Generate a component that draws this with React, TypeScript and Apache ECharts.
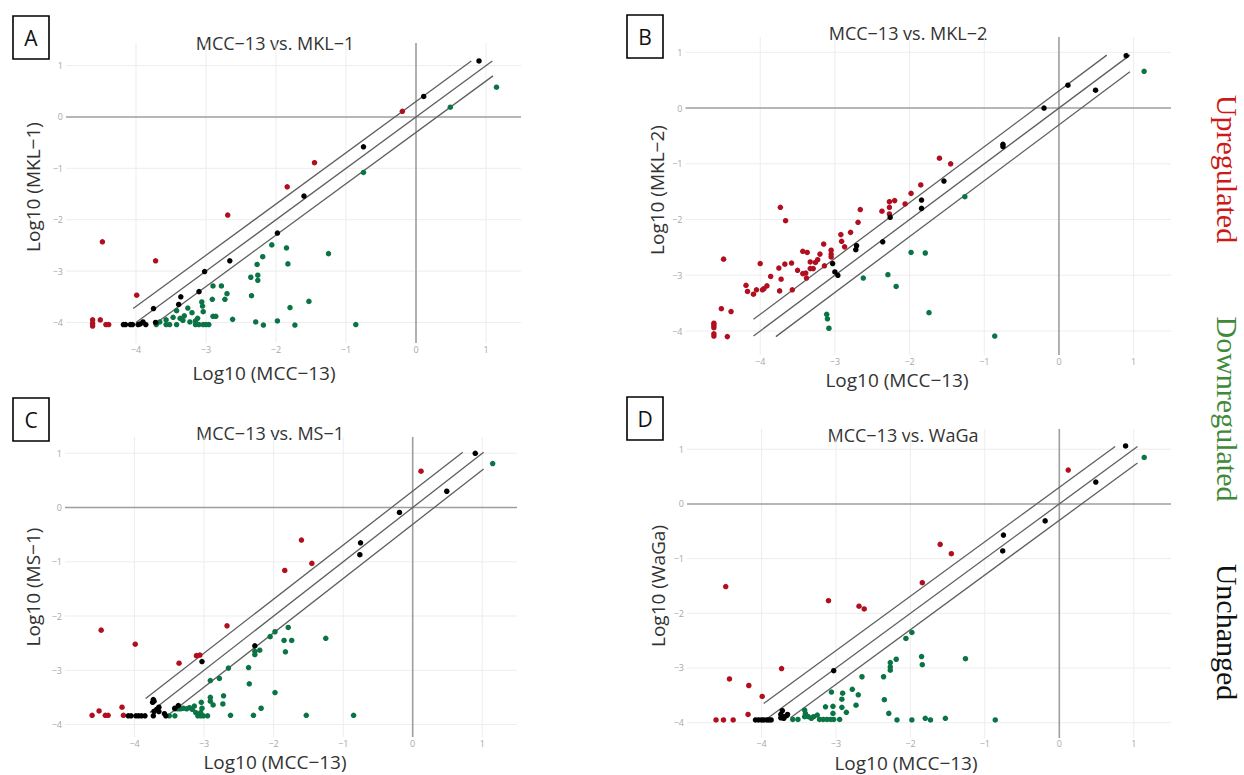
import React, { useEffect, useRef } from "react";
import * as echarts from "echarts";

const FONT = "Open Sans";
const RED = "#b10f1f";
const GREEN = "#0b7445";
const BLACK = "#000000";

const xTicks = [-4, -3, -2, -1, 0, 1];
const yTicks = [-4, -3, -2, -1, 0, 1];
const xRange = [-5, 1.5];

const letters = ["A", "B", "C", "D"];
const titles = ["MCC−13 vs. MKL−1", "MCC−13 vs. MKL−2", "MCC−13 vs. MS−1", "MCC−13 vs. WaGa"];
const yNames = ["Log10 (MKL−1)", "Log10 (MKL−2)", "Log10 (MS−1)", "Log10 (WaGa)"];
const xName = "Log10 (MCC−13)";
const legendTexts = ["Upregulated", "Downregulated", "Unchanged"];

// Panel A: MCC-13 vs MKL-1
const aUp = [[-0.195,0.11],[-1.45,-0.89],[-1.84,-1.36],[-2.69,-1.91],[-4.48,-2.43],[-3.72,-2.80],[-3.99,-3.47],[-4.62,-3.95],[-4.62,-4.02],[-4.62,-4.07],[-4.51,-3.95],[-4.43,-4.04],[-4.39,-4.04]];
const aUnch = [[0.90,1.09],[0.11,0.40],[-0.75,-0.58],[-1.60,-1.54],[-1.98,-2.26],[-2.66,-2.80],[-3.02,-3.01],[-3.10,-3.40],[-3.36,-3.50],[-3.39,-3.65],[-3.75,-3.73],[-3.72,-4.0],[-3.90,-3.99],[-3.94,-4.03],[-3.86,-4.04],[-4.18,-4.04],[-4.15,-4.04],[-4.08,-4.04],[-4.05,-4.04],[-3.97,-4.04]];
const aDown = [[1.15,0.58],[0.49,0.19],[-0.75,-1.08],[-1.25,-2.66],[-2.06,-2.49],[-1.85,-2.55],[-2.19,-2.72],[-1.83,-2.86],[-2.27,-2.87],[-2.26,-3.08],[-2.26,-3.18],[-2.36,-3.12],[-2.35,-3.48],[-1.53,-3.59],[-1.80,-3.71],[-0.86,-4.04],[-1.73,-4.05],[-1.98,-3.97],[-2.18,-4.05],[-2.29,-3.99],[-2.62,-3.94],[-2.90,-3.29],[-2.78,-3.29],[-2.70,-3.44],[-2.73,-3.55],[-2.91,-3.55],[-2.90,-3.88],[-2.86,-3.88],[-3.06,-3.60],[-3.05,-3.68],[-3.04,-3.79],[-3.12,-3.92],[-3.15,-3.97],[-3.26,-3.72],[-3.20,-3.81],[-3.31,-3.87],[-3.42,-3.77],[-3.37,-3.92],[-3.33,-3.96],[-3.47,-3.90],[-3.57,-3.95],[-3.66,-3.99],[-3.71,-4.04],[-3.57,-4.04],[-3.52,-4.04],[-3.42,-4.04],[-3.23,-3.99],[-3.15,-4.04],[-3.10,-4.04],[-3.04,-4.04],[-3.00,-4.04],[-2.96,-4.04]];
const aLines = [[[-4.04,-3.73],[0.79,1.09]],[[-4.0,-4.0],[1.09,1.09]],[[-3.72,-4.02],[1.10,0.80]]];

// Panel B: MCC-13 vs MKL-2
const bUp = [[-1.60,-0.90],[-1.45,-1.00],[-1.85,-1.38],[-1.98,-1.53],[-2.06,-1.72],[-2.27,-1.68],[-2.20,-1.66],[-2.27,-1.78],[-2.37,-1.85],[-2.27,-1.90],[-2.66,-1.82],[-2.69,-2.05],[-2.79,-2.23],[-2.92,-2.27],[-2.91,-2.39],[-2.87,-2.49],[-3.15,-2.44],[-3.05,-2.55],[-3.05,-2.62],[-3.05,-2.67],[-3.20,-2.62],[-3.23,-2.72],[-3.26,-2.77],[-3.14,-2.83],[-3.43,-2.57],[-3.37,-2.59],[-3.33,-2.76],[-3.33,-2.88],[-3.29,-2.88],[-3.43,-2.97],[-3.39,-2.96],[-3.38,-3.05],[-3.50,-2.91],[-3.58,-2.78],[-3.67,-2.80],[-3.75,-2.87],[-3.72,-3.07],[-3.73,-1.78],[-3.66,-2.02],[-4.00,-2.79],[-3.86,-3.02],[-3.74,-3.28],[-3.57,-3.26],[-3.91,-3.19],[-3.95,-3.24],[-3.97,-3.26],[-4.05,-3.26],[-4.09,-3.34],[-4.19,-3.18],[-4.17,-3.29],[-4.49,-2.71],[-4.52,-3.60],[-4.39,-3.65],[-4.44,-4.10],[-4.62,-3.86],[-4.62,-3.90],[-4.62,-3.94],[-4.62,-4.05],[-4.62,-4.09]];
const bUnch = [[0.90,0.94],[0.12,0.41],[0.49,0.32],[-0.20,0.0],[-0.75,-0.65],[-0.75,-0.69],[-1.54,-1.31],[-1.84,-1.65],[-1.84,-1.80],[-2.26,-1.96],[-2.36,-2.40],[-2.71,-2.47],[-2.72,-2.54],[-3.03,-2.79],[-3.00,-2.94],[-2.96,-3.00]];
const bDown = [[1.14,0.66],[-1.26,-1.59],[-1.98,-2.59],[-1.79,-2.60],[-2.29,-2.99],[-2.62,-3.05],[-2.18,-3.20],[-1.74,-3.67],[-3.11,-3.70],[-3.10,-3.78],[-3.08,-3.95],[-0.86,-4.09]];
const bLines = [[[-4.09,-3.79],[0.64,0.95]],[[-4.09,-4.09],[0.95,0.95]],[[-3.79,-4.10],[0.95,0.65]]];

// Panel C: MCC-13 vs MS-1
const cUp = [[0.12,0.67],[-1.60,-0.60],[-1.45,-1.03],[-1.84,-1.16],[-2.67,-2.18],[-4.48,-2.26],[-3.99,-2.52],[-3.11,-2.73],[-3.06,-2.72],[-3.36,-2.87],[-4.61,-3.83],[-4.51,-3.75],[-4.42,-3.83],[-4.38,-3.83],[-4.18,-3.68],[-4.16,-3.83]];
const cUnch = [[0.90,1.00],[0.49,0.30],[-0.19,-0.09],[-0.75,-0.65],[-0.76,-0.87],[-2.27,-2.55],[-3.03,-2.84],[-3.73,-3.54],[-3.72,-3.57],[-3.74,-3.59],[-3.65,-3.68],[-3.68,-3.72],[-3.72,-3.76],[-3.73,-3.84],[-3.65,-3.76],[-3.57,-3.80],[-3.55,-3.84],[-3.37,-3.65],[-3.42,-3.70],[-4.09,-3.84],[-4.05,-3.84],[-3.98,-3.84],[-3.94,-3.84],[-3.90,-3.84],[-3.85,-3.84]];
const cDown = [[1.15,0.81],[-1.25,-2.41],[-1.79,-2.21],[-1.98,-2.29],[-2.05,-2.38],[-1.85,-2.45],[-1.74,-2.45],[-1.83,-2.66],[-2.20,-2.63],[-2.27,-2.65],[-2.27,-2.71],[-2.36,-2.95],[-2.65,-2.96],[-2.35,-3.25],[-2.78,-3.15],[-2.91,-3.19],[-1.98,-3.41],[-2.18,-3.70],[-2.72,-3.47],[-2.73,-3.62],[-2.91,-3.50],[-2.91,-3.57],[-2.87,-3.64],[-3.04,-3.59],[-3.03,-3.70],[-3.14,-3.66],[-3.17,-3.72],[-3.21,-3.69],[-3.25,-3.71],[-3.30,-3.70],[-3.34,-3.71],[-3.38,-3.71],[-3.42,-3.71],[-3.09,-3.84],[-3.05,-3.84],[-3.01,-3.84],[-2.95,-3.84],[-3.05,-3.78],[-3.12,-3.78],[-3.50,-3.84],[-3.42,-3.84],[-1.53,-3.83],[-0.85,-3.83],[-2.29,-3.83],[-2.62,-3.83]];
const cLines = [[[-3.84,-3.52],[0.72,1.02]],[[-3.78,-3.78],[1.02,1.02]],[[-3.51,-3.82],[1.02,0.71]]];

// Panel D: MCC-13 vs WaGa
const dUp = [[0.12,0.62],[-1.60,-0.74],[-1.45,-0.91],[-1.84,-1.44],[-3.10,-1.77],[-2.69,-1.87],[-2.62,-1.92],[-4.48,-1.51],[-3.73,-3.01],[-4.43,-3.20],[-4.17,-3.32],[-3.99,-3.52],[-4.18,-3.85],[-4.61,-3.95],[-4.51,-3.95],[-4.38,-3.95]];
const dUnch = [[0.89,1.06],[0.49,0.40],[-0.19,-0.31],[-0.75,-0.57],[-0.76,-0.86],[-3.03,-3.05],[-3.72,-3.78],[-3.74,-3.85],[-3.70,-3.89],[-3.66,-3.87],[-3.65,-3.85],[-3.74,-3.91],[-3.70,-3.92],[-4.08,-3.95],[-4.04,-3.95],[-4.00,-3.95],[-3.97,-3.95],[-3.93,-3.95],[-3.90,-3.95],[-3.87,-3.95]];
const dDown = [[1.14,0.85],[-1.26,-2.83],[-1.98,-2.35],[-2.06,-2.46],[-2.19,-2.84],[-2.27,-2.90],[-2.27,-2.98],[-2.27,-3.04],[-1.85,-2.79],[-1.84,-2.94],[-2.36,-3.16],[-2.65,-3.16],[-2.78,-3.39],[-2.70,-3.49],[-2.91,-3.46],[-2.92,-3.57],[-3.06,-3.44],[-3.04,-3.70],[-3.04,-3.83],[-3.14,-3.71],[-2.92,-3.72],[-2.86,-3.81],[-2.73,-3.68],[-2.35,-3.58],[-2.29,-3.83],[-2.18,-3.95],[-1.98,-3.95],[-1.80,-3.92],[-1.73,-3.95],[-1.53,-3.92],[-0.86,-3.95],[-3.42,-3.77],[-3.41,-3.83],[-3.37,-3.89],[-3.33,-3.92],[-3.30,-3.89],[-3.25,-3.86],[-3.42,-3.89],[-3.58,-3.94],[-3.51,-3.94],[-3.22,-3.94],[-3.17,-3.94],[-3.12,-3.94],[-3.07,-3.94],[-3.03,-3.94],[-2.95,-3.94]];
const dLines = [[[-3.97,-3.65],[0.75,1.05]],[[-3.94,-3.94],[1.05,1.05]],[[-3.61,-3.91],[1.05,0.75]]];

const yRanges = [[-4.40, 1.44], [-4.43, 1.275], [-4.23, 1.30], [-4.28, 1.37]];

const panelData = [
  { up: aUp, down: aDown, unch: aUnch, lines: aLines },
  { up: bUp, down: bDown, unch: bUnch, lines: bLines },
  { up: cUp, down: cDown, unch: cUnch, lines: cLines },
  { up: dUp, down: dDown, unch: dUnch, lines: dLines },
];

const layout = [
  { grid: { left: 66, top: 43, width: 455, height: 300 }, title: [275, 43], xName: [264, 373], yName: [33, 187], box: [13, 16], xMargin: 2 },
  { grid: { left: 685.5, top: 37, width: 485.5, height: 318 }, title: [908, 33], xName: [897, 380], yName: [657, 190], box: [627, 15], xMargin: 2 },
  { grid: { left: 65, top: 437, width: 452, height: 300 }, title: [270, 433], xName: [275, 762], yName: [33, 587], box: [13, 398], xMargin: 2 },
  { grid: { left: 687, top: 429, width: 484, height: 309 }, title: [903, 435], xName: [906, 763], yName: [658, 586], box: [627, 397], xMargin: 1 },
];

const fmt = (v: number) => String(v).replace("-", "\u2212");

function buildOption() {
  const grids: any[] = [];
  const xAxes: any[] = [];
  const yAxes: any[] = [];
  const series: any[] = [];
  const graphics: any[] = [];

  panelData.forEach((p, i) => {
    const L = layout[i];
    const [yMin, yMax] = yRanges[i];
    grids.push({ ...L.grid, containLabel: false });
    xAxes.push({
      gridIndex: i, type: "value", min: xRange[0], max: xRange[1],
      axisLine: { show: false }, axisTick: { show: false }, splitLine: { show: false },
      axisLabel: { customValues: xTicks, formatter: fmt, fontSize: 9, color: "#a8a8a8", margin: L.xMargin, fontFamily: FONT },
    });
    yAxes.push({
      gridIndex: i, type: "value", min: yMin, max: yMax,
      axisLine: { show: false }, axisTick: { show: false }, splitLine: { show: false },
      axisLabel: { customValues: yTicks, formatter: fmt, fontSize: 9, color: "#a8a8a8", margin: 3, fontFamily: FONT },
    });
    const base = { xAxisIndex: i, yAxisIndex: i, silent: true, animation: false };
    xTicks.filter((v) => v !== 0).forEach((v) => {
      series.push({ ...base, type: "line", data: [[v, yMin], [v, yMax]], symbol: "none", lineStyle: { color: "#ededed", width: 1 }, z: 1 });
    });
    yTicks.filter((v) => v !== 0).forEach((v) => {
      series.push({ ...base, type: "line", data: [[xRange[0], v], [xRange[1], v]], symbol: "none", lineStyle: { color: "#ededed", width: 1 }, z: 1 });
    });
    series.push({ ...base, type: "line", data: [[0, yMin], [0, yMax]], symbol: "none", lineStyle: { color: "#9e9e9e", width: 1.6 }, z: 2 });
    series.push({ ...base, type: "line", data: [[xRange[0], 0], [xRange[1], 0]], symbol: "none", lineStyle: { color: "#9e9e9e", width: 1.6 }, z: 2 });
    p.lines.forEach((seg) => {
      series.push({ ...base, type: "line", data: seg, symbol: "none", lineStyle: { color: "#5f5f5f", width: 1.3 }, z: 3 });
    });
    series.push({ ...base, type: "scatter", name: "Upregulated", data: p.up, symbolSize: 5.5, itemStyle: { color: RED, opacity: 1 }, z: 4 });
    series.push({ ...base, type: "scatter", name: "Downregulated", data: p.down, symbolSize: 5.5, itemStyle: { color: GREEN, opacity: 1 }, z: 4 });
    series.push({ ...base, type: "scatter", name: "Unchanged", data: p.unch, symbolSize: 5.5, itemStyle: { color: BLACK, opacity: 1 }, z: 5 });

    graphics.push({ type: "text", x: L.title[0], y: L.title[1], style: { text: titles[i], fontSize: 18, fontFamily: FONT, fill: "#333", align: "center", verticalAlign: "middle" } });
    graphics.push({ type: "text", x: L.xName[0], y: L.xName[1], style: { text: xName, fontSize: 19, fontFamily: FONT, fill: "#333", align: "center", verticalAlign: "middle" } });
    graphics.push({ type: "text", x: L.yName[0], y: L.yName[1], rotation: Math.PI / 2, style: { text: yNames[i], fontSize: 19, fontFamily: FONT, fill: "#333", align: "center", verticalAlign: "middle" } });
    graphics.push({ type: "rect", shape: { x: L.box[0], y: L.box[1], width: 36, height: 43 }, style: { fill: "#fff", stroke: "#000", lineWidth: 1.6 } });
    graphics.push({ type: "text", x: L.box[0] + 18, y: L.box[1] + 22, style: { text: letters[i], fontSize: 21, fontFamily: FONT, fill: "#111", align: "center", verticalAlign: "middle" } });
  });

  const legendColors = ["#cc1a1a", "#3f8a38", "#111111"];
  const legendY = [169, 409, 632];
  legendTexts.forEach((t, k) => {
    graphics.push({ type: "text", x: 1227, y: legendY[k], rotation: -Math.PI / 2, style: { text: t, fontSize: 30, fontFamily: "Liberation Serif", fill: legendColors[k], align: "center", verticalAlign: "middle" } });
  });

  return {
    animation: false,
    backgroundColor: "#ffffff",
    grid: grids,
    xAxis: xAxes,
    yAxis: yAxes,
    series,
    graphic: graphics,
  };
}

export default function App() {
  const ref = useRef<HTMLDivElement>(null);
  useEffect(() => {
    if (!ref.current) return;
    const chart = echarts.init(ref.current, undefined, { renderer: "svg" });
    chart.setOption(buildOption() as any);
    return () => chart.dispose();
  }, []);
  return <div ref={ref} style={{ position: "absolute", left: 0, top: 0, width: 1244, height: 775, background: "#fff" }} />;
}
